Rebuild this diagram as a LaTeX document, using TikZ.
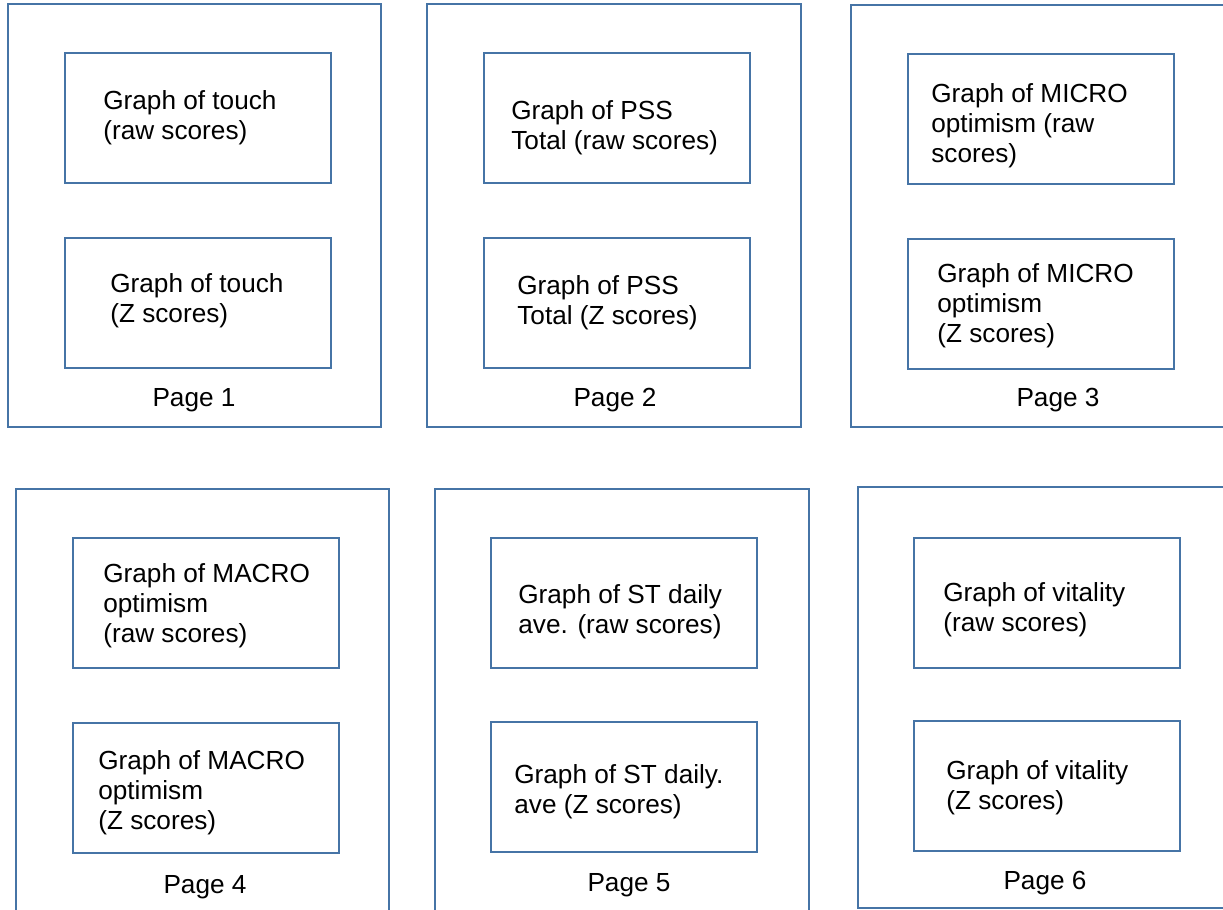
\documentclass[tikz,border=0pt]{standalone}
\usepackage{fontspec}
\setmainfont{Liberation Sans}
\usetikzlibrary{positioning}

\begin{document}
\begin{tikzpicture}[x=0.02cm,y=-0.02cm]
\definecolor{boxColor}{RGB}{70,116,166}
\tikzset{
  pagebox/.style={draw=boxColor, line width=1.4pt},
  graphbox/.style={draw=boxColor, line width=1.4pt, inner sep=0pt, anchor=north west, minimum width=5.32cm, minimum height=2.6cm},
  graphtext/.style={font=\fontsize{14.9}{17}\selectfont, align=left, inner sep=0pt, anchor=north west},
  pagetext/.style={font=\fontsize{14.9}{17}\selectfont, inner sep=0pt, anchor=north}
}
\useasboundingbox (0,0) rectangle (1223,909);
\clip (0,0) rectangle (1223,909);
% pages
\draw[pagebox] (8,4) rectangle (381,427);
\draw[pagebox] (427,4) rectangle (801,427);
\draw[pagebox] (851,5) rectangle (1235,427);
\draw[pagebox] (16,489) rectangle (389,920);
\draw[pagebox] (435,489) rectangle (809,920);
\draw[pagebox] (858,487) rectangle (1235,908);
% graph boxes
\node[graphbox] (p1raw) at (64,52) {};
\node[graphbox] (p1z) at (64,237) {};
\node[graphbox] (p2raw) at (483,52) {};
\node[graphbox] (p2z) at (483,237) {};
\node[graphbox] (p3raw) at (907,53) {};
\node[graphbox] (p3z) at (907,238) {};
\node[graphbox] (p4raw) at (72,537) {};
\node[graphbox] (p4z) at (72,722) {};
\node[graphbox] (p5raw) at (490,537) {};
\node[graphbox] (p5z) at (490,721) {};
\node[graphbox] (p6raw) at (913,537) {};
\node[graphbox] (p6z) at (913,720) {};
% texts
\node[graphtext] (p1rawtext) at (103,90) {Graph of touch\\(raw scores)};
\node[graphtext] (p1ztext) at (110,273) {Graph of touch\\(Z scores)};
\node[graphtext] (p2rawtext) at (511,100) {Graph of PSS\\Total (raw scores)};
\node[graphtext] (p2ztext) at (517,275) {Graph of PSS\\Total (Z scores)};
\node[graphtext] (p3rawtext) at (931,83) {Graph of MICRO\\optimism (raw\\scores)};
\node[graphtext] (p3ztext) at (937,263) {Graph of MICRO\\optimism\\(Z scores)};
\node[graphtext] (p4rawtext) at (103,563) {Graph of MACRO\\optimism\\(raw scores)};
\node[graphtext] (p4ztext) at (98,750) {Graph of MACRO\\optimism\\(Z scores)};
\node[graphtext] (p5rawtext) at (518,584) {Graph of ST daily\\ave. (raw scores)};
\node[graphtext] (p5ztext) at (514,764) {Graph of ST daily.\\ave (Z scores)};
\node[graphtext] (p6rawtext) at (943,582) {Graph of vitality\\(raw scores)};
\node[graphtext] (p6ztext) at (946,760) {Graph of vitality\\(Z scores)};
% page numbers
\node[pagetext] (p1label) at (194,388) {Page 1};
\node[pagetext] (p2label) at (615,388) {Page 2};
\node[pagetext] (p3label) at (1058,388) {Page 3};
\node[pagetext] (p4label) at (205,875) {Page 4};
\node[pagetext] (p5label) at (629,873) {Page 5};
\node[pagetext] (p6label) at (1045,871) {Page 6};
\end{tikzpicture}
\end{document}
